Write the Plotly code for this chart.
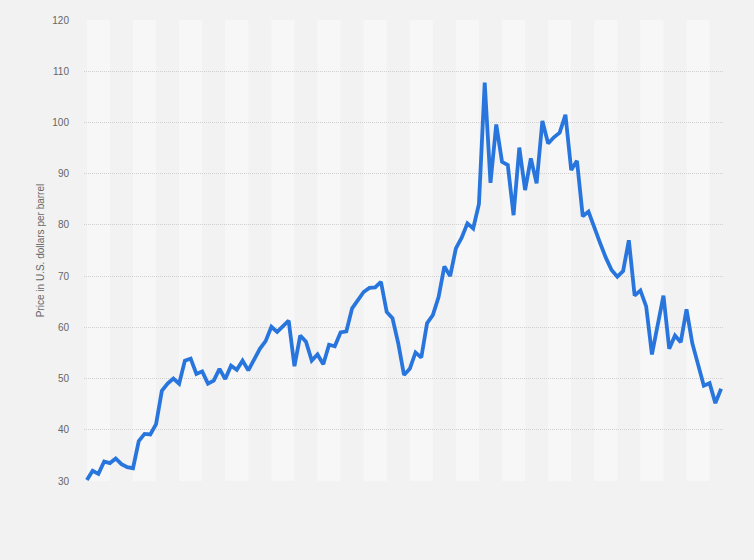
import plotly.graph_objects as go

# Price in U.S. dollars per barrel (111 periods)
prices = [
    30.2, 32.0, 31.4, 33.8, 33.5, 34.4, 33.3, 32.7, 32.5, 37.8,
    39.2, 39.1, 41.1, 47.6, 49.0, 50.0, 49.0, 53.5, 53.9, 50.9,
    51.4, 49.0, 49.6, 51.9, 49.9, 52.5, 51.7, 53.5, 51.6, 53.9,
    55.8, 57.3, 60.1, 59.1, 60.3, 61.3, 52.4, 58.4, 57.2, 53.5,
    54.7, 52.8, 56.6, 56.3, 59.0, 59.2, 63.7, 65.4, 66.9, 67.7,
    67.8, 68.9, 63.0, 61.8, 56.9, 50.7, 51.9, 55.1, 54.1, 60.8,
    62.4, 65.9, 71.9, 70.0, 75.4, 77.5, 80.3, 79.3, 84.1, 107.8,
    88.2, 99.6, 92.3, 91.7, 81.9, 95.1, 86.8, 93.0, 88.1, 100.3,
    95.9, 97.1, 98.0, 101.5, 90.7, 92.5, 81.7, 82.6, 79.3, 76.5,
    73.6, 71.2, 69.9, 71.0, 77.0, 66.2, 67.2, 64.1, 54.7, 60.5,
    66.2, 55.8, 58.4, 57.1, 63.5, 56.9, 53.0, 48.6, 49.1, 45.2,
    48.0,
]
periods = list(range(len(prices)))
y_ticks = [30, 40, 50, 60, 70, 80, 90, 100, 110, 120]
y_title = "Price in U.S. dollars per barrel"

LINE_COLOR = "#2876dd"
BG = "#f2f2f2"
BAND = "#f7f7f7"

fig = go.Figure()
fig.add_trace(go.Scatter(
    x=periods,
    y=prices,
    mode="lines",
    line=dict(color=LINE_COLOR, width=3.8),
    hovertemplate="%{y:.2f}<extra></extra>",
    showlegend=False,
))

# alternating light column bands, 4 periods each
for start in range(0, len(prices), 8):
    fig.add_shape(
        type="rect", xref="x", yref="paper",
        x0=start, x1=min(start + 4, len(prices) - 0.5), y0=0, y1=1,
        fillcolor=BAND, line=dict(width=0), layer="below",
    )

fig.update_layout(
    width=754, height=560,
    margin=dict(l=84, r=30, t=20, b=79),
    paper_bgcolor=BG,
    plot_bgcolor=BG,
    font=dict(family="Liberation Sans, Arial, sans-serif", color="#666666", size=10),
)
fig.update_xaxes(
    range=[-0.5, len(prices) - 0.5],
    showgrid=False, zeroline=False, showticklabels=False, showline=False,
)
fig.update_yaxes(
    range=[30, 120],
    tickvals=y_ticks,
    showgrid=True, gridcolor="#d0d0d0", griddash="1px,1px", gridwidth=1,
    zeroline=False, showline=False,
    ticklabelstandoff=14,
    tickfont=dict(size=10, color="#666666"),
    title=dict(text=y_title, font=dict(size=10, color="#666666"), standoff=5),
)

# drop the browser's default body margin so the figure fills the window
fig.write_html(
    "out.html",
    config={"displayModeBar": False},
    post_script="document.body.style.margin='0';",
)
